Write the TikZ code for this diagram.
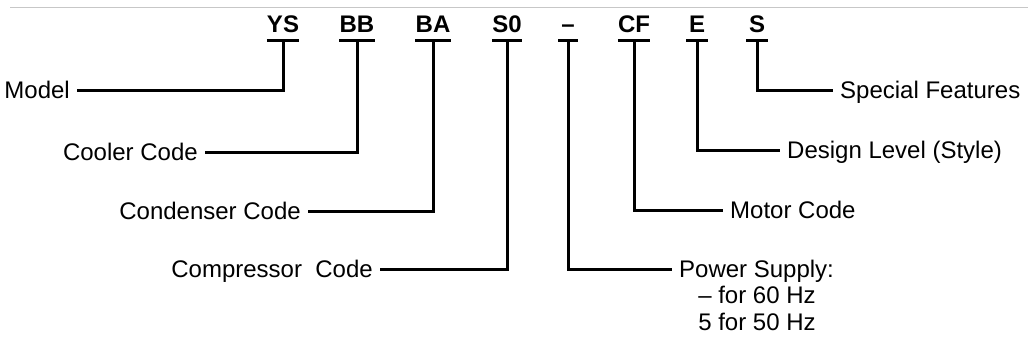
\documentclass[tikz,border=0pt]{standalone}
\usepackage{fontspec}
\setmainfont{Liberation Sans}
\begin{document}
\begin{tikzpicture}[x=1pt,y=-1pt,
  code/.style={font=\fontsize{24pt}{28pt}\selectfont\bfseries, inner xsep=0pt, inner ysep=0pt,
               text height=17.2pt, text depth=0pt, anchor=base, minimum width=21pt},
  lbl/.style={font=\fontsize{24pt}{28pt}\selectfont, inner xsep=7pt, inner ysep=0pt,
              text height=17.2pt, text depth=0pt},
  sub/.style={font=\fontsize{24pt}{28pt}\selectfont, inner sep=0pt, anchor=base},
  conn/.style={line width=3pt, black},
  bar/.style={line width=3pt, black}
]
\fill[white] (0,0) rectangle (1028,345);
\useasboundingbox (0,0) rectangle (1028,345);
\draw[black!22, line width=1pt] (10,8) -- (1028,8);

% code letters
\node[code] (YS) at (283,33) {YS};
\node[code] (BB) at (357,33) {BB};
\node[code] (BA) at (433,33) {BA};
\node[code] (S0) at (507,33) {S0};
\node[code, minimum width=19pt] (DA) at (568,33) {–};
\node[code] (CF) at (634,33) {CF};
\node[code] (E) at (697,33) {E};
\node[code] (S) at (757,33) {S};

\foreach \n in {YS,BB,BA,S0,DA,CF,E,S}
  \draw[bar] ([yshift=-7pt]\n.south west) -- ([yshift=-7pt]\n.south east);

% labels left
\node[lbl, anchor=east] (model) at (77,90) {Model};
\node[lbl, anchor=east] (cooler) at (205,152) {Cooler Code};
\node[lbl, anchor=east] (cond) at (308,211) {Condenser Code};
\node[lbl, anchor=east] (comp) at (380,269) {Compressor\ \ Code};

% labels right
\node[lbl, anchor=west] (spec) at (833,90) {Special Features};
\node[lbl, anchor=west] (design) at (780,150) {Design Level (Style)};
\node[lbl, anchor=west] (motor) at (723,210) {Motor Code};
\node[lbl, anchor=west] (power) at (672,269) {Power Supply:};
\node[sub] (p60) at (757,303) {– for 60 Hz};
\node[sub] (p50) at (757,330) {5 for 50 Hz};

% connectors
\draw[conn] ([yshift=-7pt]YS.south) |- (model.east);
\draw[conn] ([yshift=-7pt]BB.south) |- (cooler.east);
\draw[conn] ([yshift=-7pt]BA.south) |- (cond.east);
\draw[conn] ([yshift=-7pt]S0.south) |- (comp.east);
\draw[conn] ([yshift=-7pt]DA.south) |- (power.west);
\draw[conn] ([yshift=-7pt]CF.south) |- (motor.west);
\draw[conn] ([yshift=-7pt]E.south) |- (design.west);
\draw[conn] ([yshift=-7pt]S.south) |- (spec.west);
\end{tikzpicture}
\end{document}
